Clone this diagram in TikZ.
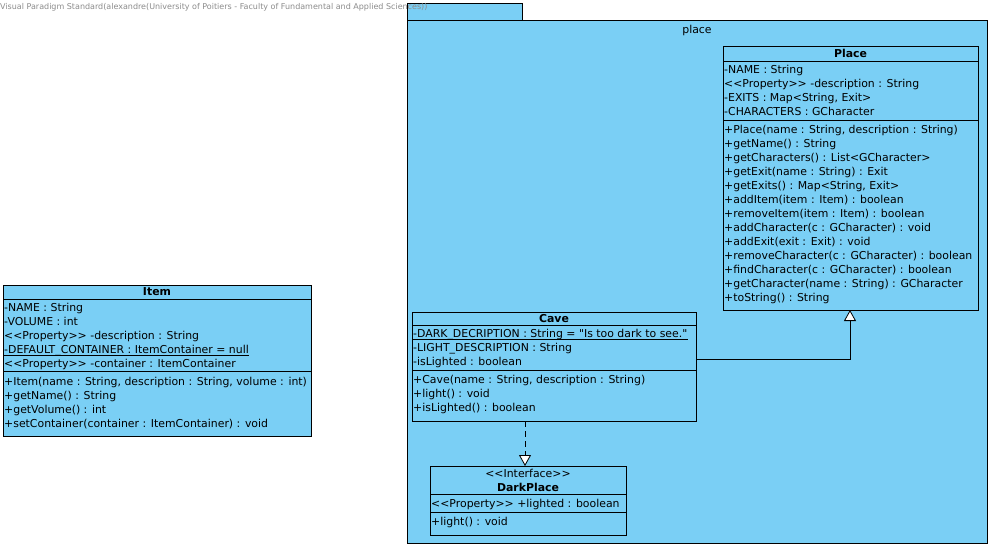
\documentclass[tikz,border=0pt]{standalone}
\usepackage{fontspec}
\setmainfont{DejaVu Sans}[Ligatures=TeXOff]
\usetikzlibrary{arrows.meta}
\definecolor{vpblue}{RGB}{122,207,245}
\definecolor{hdrgray}{RGB}{140,140,140}
\begin{document}
\begin{tikzpicture}[x=1pt,y=-1pt,
  box/.style={draw=black,fill=vpblue,line width=0.8pt,inner sep=0pt,outer sep=0pt,anchor=north west},
  txt/.style={anchor=west,inner sep=0pt,font=\fontsize{10.9}{12}\selectfont,text height=8pt,text depth=0pt},
  ctr/.style={inner sep=0pt,font=\fontsize{10.9}{12}\selectfont,text height=8pt,text depth=0pt},
  ttl/.style={ctr,font=\fontsize{10.9}{12}\selectfont\bfseries},
  sep/.style={draw=black,line width=0.8pt},
  uline/.style={draw=black,line width=0.6pt},
  gen/.style={draw=black,line width=0.8pt,-{Triangle[width=12pt,length=11pt,fill=white]}},
  realz/.style={gen,dash pattern=on 6pt off 4pt}]
\useasboundingbox (0,0) rectangle (991,547);
\fill[white] (0,0) rectangle (991,547);
% package
\node[box,minimum width=115pt,minimum height=17pt] (tab) at (407,3) {};
\node[box,minimum width=580pt,minimum height=523pt] (pkg) at (407,20) {};
\node[ctr] (pkglbl) at (697,29) {place};
% header
\node[anchor=west,inner sep=0pt,font=\fontsize{8}{9}\selectfont,text=hdrgray] (hdr) at (0,7) {Visual Paradigm Standard(alexandre(University of Poitiers - Faculty of Fundamental and Applied Sciences))};
% Place
\node[box,minimum width=255pt,minimum height=264pt] (place) at (723,46) {};
\node[ttl] (placet) at (850.5,53) {Place};
\draw[sep] (723,61) -- (978,61);
\draw[sep] (723,120) -- (978,120);
\node[txt] (p1) at (724,69) {-NAME : String};
\node[txt] (p2) at (724,83) {<<Property>> -description : String};
\node[txt] (p3) at (724,97) {-EXITS : Map<String, Exit>};
\node[txt] (p4) at (724,111) {-CHARACTERS : GCharacter};
\node[txt] (pm1) at (724,129) {+Place(name : String, description : String)};
\node[txt] (pm2) at (724,143) {+getName() : String};
\node[txt] (pm3) at (724,157) {+getCharacters() : List<GCharacter>};
\node[txt] (pm4) at (724,171) {+getExit(name : String) : Exit};
\node[txt] (pm5) at (724,185) {+getExits() : Map<String, Exit>};
\node[txt] (pm6) at (724,199) {+addItem(item : Item) : boolean};
\node[txt] (pm7) at (724,213) {+removeItem(item : Item) : boolean};
\node[txt] (pm8) at (724,227) {+addCharacter(c : GCharacter) : void};
\node[txt] (pm9) at (724,241) {+addExit(exit : Exit) : void};
\node[txt] (pm10) at (724,255) {+removeCharacter(c : GCharacter) : boolean};
\node[txt] (pm11) at (724,269) {+findCharacter(c : GCharacter) : boolean};
\node[txt] (pm12) at (724,283) {+getCharacter(name : String) : GCharacter};
\node[txt] (pm13) at (724,297) {+toString() : String};
% Item
\node[box,minimum width=308pt,minimum height=151pt] (item) at (3,285) {};
\node[ttl] (itemt) at (157,291) {Item};
\draw[sep] (3,299) -- (311,299);
\draw[sep] (3,371) -- (311,371);
\node[txt] (i1) at (4,307) {-NAME : String};
\node[txt] (i2) at (4,321) {-VOLUME : int};
\node[txt] (i3) at (4,335) {<<Property>> -description : String};
\node[txt] (i4) at (4,349) {-DEFAULT\_CONTAINER : ItemContainer = null};
\draw[uline] ([yshift=-2.5pt]i4.south west) -- ([yshift=-2.5pt]i4.south east);
\node[txt] (i5) at (4,363) {<<Property>> -container : ItemContainer};
\node[txt] (im1) at (4,381) {+Item(name : String, description : String, volume : int)};
\node[txt] (im2) at (4,395) {+getName() : String};
\node[txt] (im3) at (4,409) {+getVolume() : int};
\node[txt] (im4) at (4,423) {+setContainer(container : ItemContainer) : void};
% Cave
\node[box,minimum width=284pt,minimum height=109pt] (cave) at (412,312) {};
\node[ttl] (cavet) at (554,318) {Cave};
\draw[sep] (412,325) -- (696,325);
\draw[sep] (412,370) -- (696,370);
\node[txt] (c1) at (413,333) {-DARK\_DECRIPTION : String = "Is too dark to see."};
\draw[uline] ([yshift=-2.5pt]c1.south west) -- ([yshift=-2.5pt]c1.south east);
\node[txt] (c2) at (413,347) {-LIGHT\_DESCRIPTION : String};
\node[txt] (c3) at (413,361) {-isLighted : boolean};
\node[txt] (cm1) at (413,379) {+Cave(name : String, description : String)};
\node[txt] (cm2) at (413,393) {+light() : void};
\node[txt] (cm3) at (413,407) {+isLighted() : boolean};
% DarkPlace
\node[box,minimum width=196pt,minimum height=69pt] (dark) at (430,466) {};
\node[ctr] (darks) at (528,473) {<<Interface>>};
\node[ttl] (darkt) at (528,487) {DarkPlace};
\draw[sep] (430,494) -- (626,494);
\draw[sep] (430,512) -- (626,512);
\node[txt] (d1) at (431,503) {<<Property>> +lighted : boolean};
\node[txt] (dm1) at (431,521) {+light() : void};
% connectors
\coordinate (gy) at (850,359);
\draw[gen] (cave.east |- gy) -| (place.south -| gy);
\coordinate (rx) at (525,421);
\draw[realz] (cave.south -| rx) -- (dark.north -| rx);
\end{tikzpicture}
\end{document}
